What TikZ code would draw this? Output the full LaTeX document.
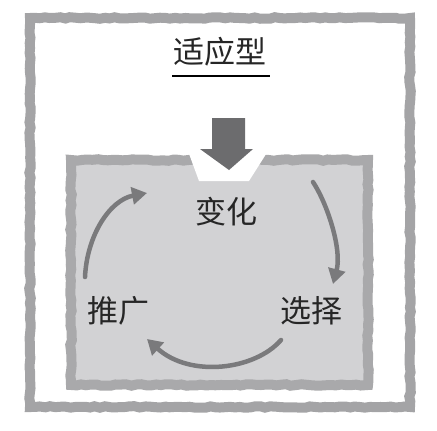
\documentclass[tikz,border=0pt]{standalone}
\usepackage{fontspec}
\newfontfamily\cjk{Noto Sans CJK SC}
\usetikzlibrary{arrows.meta, decorations.pathmorphing}
\definecolor{framegray}{HTML}{A4A4A6}
\definecolor{boxgray}{HTML}{A9A9AB}
\definecolor{boxfill}{HTML}{D2D2D4}
\definecolor{arrowdark}{HTML}{6C6C6E}
\definecolor{arcgray}{HTML}{7A7A7C}

\begin{document}
\begin{tikzpicture}[x=1pt,y=-1pt,
 rough/.style={decorate,decoration={random steps,segment length=5pt,amplitude=0.8pt}},
 frame/.style={draw=framegray,line width=10pt,rough},
 arc/.style={draw=arcgray,line width=4.5pt,line cap=round,-{Triangle[length=15pt,width=17pt]}},
 word/.style={font=\cjk\fontsize{31}{31}\selectfont,text=black!85,inner sep=0pt}]
 \useasboundingbox (0,0) rectangle (437,431);
 % outer frame and title
 \draw[frame] (30,18) rectangle (410,407);
 \node[word] (title) at (220,52) {适应型};
 \draw[line width=1.2pt] (172,76) -- (270,76);
%
 % inner box with the notch and the arrow
 \fill[boxfill] (68,157) rectangle (371,388);
 \draw[draw=boxgray,line width=10pt,rough] (71,160) rectangle (368,385);
 \fill[white] (188,151) -- (268,151) -- (249,181) -- (199,181) -- cycle;
 \fill[arrowdark] (212,118) -- (245,118) -- (245,149) -- (253,149)
   -- (229,170) -- (200,149) -- (212,149) -- cycle;
%
 \node[word] (bianhua) at (226,212) {变化};
 \node[word] (tuiguang) at (118,311) {推广};
 \node[word] (xuanze) at (311,311) {选择};
%
 \coordinate (l0) at (85,277);
 \coordinate (l1) at (147,193);
 \coordinate (r0) at (313,182);
 \coordinate (r1) at (333,284);
 \coordinate (b0) at (281,340);
 \coordinate (b1) at (147,339);
 \draw[arc] (l0) .. controls (87,235) and (110,200) .. (l1);
 \draw[arc] (r0) .. controls (328,205) and (342,250) .. (r1);
 \draw[arc] (b0) .. controls (255,370) and (190,378) .. (b1);
\end{tikzpicture}
\end{document}
